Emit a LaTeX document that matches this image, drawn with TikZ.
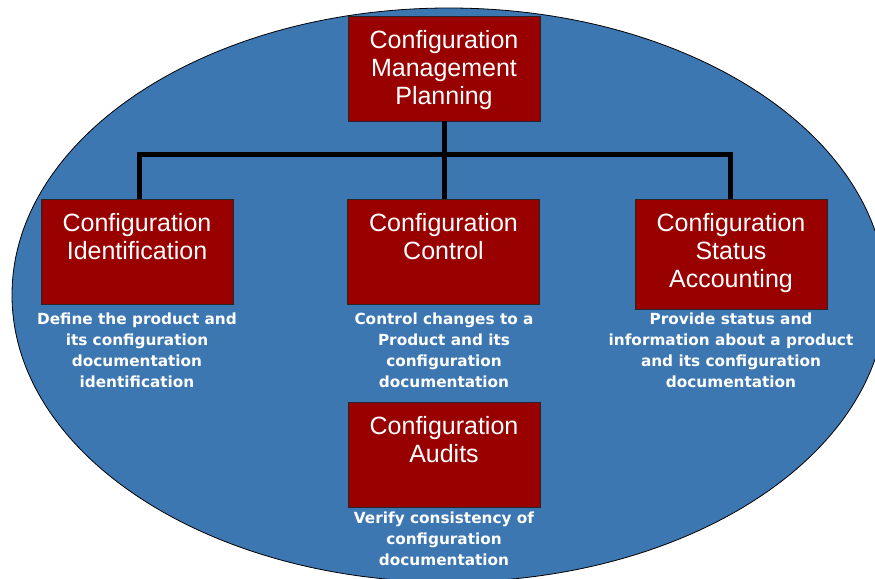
\documentclass[tikz,border=0pt]{standalone}
\usepackage{fontspec}
\setmainfont{Liberation Sans}
\newfontfamily\descfont{DejaVu Sans}
\definecolor{ellblue}{RGB}{60,119,178}
\definecolor{boxred}{RGB}{153,0,0}
\tikzset{
  cmbox/.style={draw=black!85, line width=0.8pt, fill=boxred, minimum width=192pt, minimum height=105pt, inner sep=0pt},
  cmtitle/.style={text=white, align=center, inner sep=0pt, anchor=north, font=\fontsize{25}{28}\selectfont},
  cmdesc/.style={text=white, align=center, inner sep=0pt, anchor=north, font=\descfont\bfseries\fontsize{15.3}{21}\selectfont},
  link/.style={line width=5pt, black}
}
\begin{document}
\begin{tikzpicture}[x=1pt,y=-1pt]
\useasboundingbox (0,0) rectangle (875,578);
\clip (0,0) rectangle (875,578);
\draw[fill=ellblue, draw=black, line width=0.8pt] (449,295) ellipse [x radius=437, y radius=287];

% boxes
\node[cmbox] (plan) at (444,68.5) {};
\node[cmbox] (ident) at (137,251.5) {};
\node[cmbox] (ctrl) at (443.5,251.5) {};
\node[cmbox, minimum height=110pt] (status) at (731,254) {};
\node[cmbox] (audit) at (444,454.5) {};

% connectors
\coordinate (barL) at (139.5,154);
\coordinate (barR) at (730.5,154);
\draw[link] (plan.south) -- (plan.south |- barL);
\draw[link] ([xshift=-2.5pt]barL) -- ([xshift=2.5pt]barR);
\draw[link] (barL) -- (barL |- ident.north);
\draw[link] (plan.south |- barL) -- (plan.south |- ctrl.north);
\draw[link] (barR) -- (barR |- status.north);

% titles
\node[cmtitle] (planT) at ([yshift=-15pt]plan.north) {Configuration\\Management\\Planning};
\node[cmtitle] (identT) at ([yshift=-15pt]ident.north) {Configuration\\Identification};
\node[cmtitle] (ctrlT) at ([yshift=-15pt]ctrl.north) {Configuration\\Control};
\node[cmtitle] (statusT) at ([yshift=-15pt]status.north) {Configuration\\Status\\Accounting};
\node[cmtitle] (auditT) at ([yshift=-15pt]audit.north) {Configuration\\Audits};

% descriptions
\node[cmdesc] (identD) at (137,312.5) {Define the product and\\its configuration\\documentation\\identification};
\node[cmdesc] (ctrlD) at (444,312.5) {Control changes to a\\Product and its\\configuration\\documentation};
\node[cmdesc] (statusD) at (731,312.5) {Provide status and\\information about a product\\and its configuration\\documentation};
\node[cmdesc] (auditD) at (444,511.5) {Verify consistency of\\configuration\\documentation};
\end{tikzpicture}
\end{document}
